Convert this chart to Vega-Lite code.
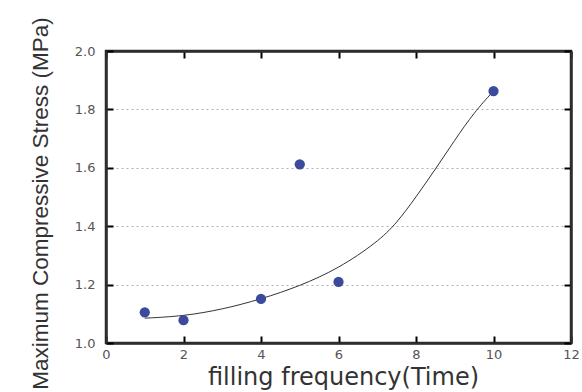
{
  "$schema": "https://vega.github.io/schema/vega-lite/v6.json",
  "width": 465,
  "height": 292,
  "autosize": "none",
  "padding": {"left": 106, "top": 51, "right": 11, "bottom": 49},
  "background": "white",
  "view": {"stroke": "#2e2e2e", "strokeWidth": 2.5},
  "datasets": {
    "points": [
      {"freq": 1, "stress": 1.105},
      {"freq": 2, "stress": 1.078},
      {"freq": 4, "stress": 1.151},
      {"freq": 5, "stress": 1.612},
      {"freq": 6, "stress": 1.209},
      {"freq": 10, "stress": 1.863}
    ],
    "fit": [
      {"freq": 1, "stress": 1.085},
      {"freq": 2, "stress": 1.092},
      {"freq": 3, "stress": 1.115},
      {"freq": 4, "stress": 1.15},
      {"freq": 5, "stress": 1.195},
      {"freq": 6, "stress": 1.255},
      {"freq": 7, "stress": 1.345},
      {"freq": 7.5, "stress": 1.41},
      {"freq": 8, "stress": 1.5},
      {"freq": 8.5, "stress": 1.595},
      {"freq": 9, "stress": 1.695},
      {"freq": 9.5, "stress": 1.79},
      {"freq": 10, "stress": 1.863}
    ]
  },
  "layer": [
    {
      "data": {"name": "fit"},
      "mark": {"type": "line", "interpolate": "basis", "color": "#333333", "strokeWidth": 1},
      "encoding": {
        "x": {
          "field": "freq", "type": "quantitative",
          "scale": {"domain": [0, 12], "nice": false},
          "axis": {"orient": "top", "title": null, "labels": false, "grid": false, "tickCount": 6,
                   "domainColor": "#2e2e2e", "domainWidth": 2.5,
                   "ticks": true, "tickSize": -7, "tickColor": "black", "tickWidth": 2}
        },
        "y": {
          "field": "stress", "type": "quantitative",
          "scale": {"domain": [1, 2], "nice": false, "zero": false},
          "axis": {"orient": "right", "title": null, "labels": false, "grid": false, "tickCount": 5,
                   "domainColor": "#2e2e2e", "domainWidth": 2.5,
                   "ticks": true, "tickSize": -7, "tickColor": "black", "tickWidth": 2}
        }
      }
    },
    {
      "data": {"name": "points"},
      "mark": {"type": "point", "shape": "circle", "filled": true, "size": 105, "color": "#3b4a9c", "opacity": 1},
      "encoding": {
        "x": {
          "field": "freq", "type": "quantitative",
          "scale": {"domain": [0, 12], "nice": false},
          "axis": {"orient": "bottom", "title": "filling frequency(Time)", "tickCount": 6,
                   "grid": false, "domainColor": "#2e2e2e", "domainWidth": 2.5,
                   "ticks": true, "tickSize": -7, "tickColor": "black", "tickWidth": 2,
                   "labelPadding": 12, "labelFontSize": 13,
                   "labelColor": "#555555", "labelFont": "DejaVu Sans", "labelFlush": false,
                   "titleFontSize": 24, "titleFontWeight": "normal", "titleColor": "#333333",
                   "titleFont": "DejaVu Sans", "titleX": 237, "titleY": 41, "titleAlign": "center",
                   "titleBaseline": "alphabetic"}
        },
        "y": {
          "field": "stress", "type": "quantitative",
          "scale": {"domain": [1, 2], "nice": false, "zero": false},
          "axis": {"orient": "left", "title": "Maximum Compressive Stress (MPa)", "tickCount": 5,
                   "grid": true, "gridDash": [2, 3], "gridColor": "#b0b0b0", "gridWidth": 1,
                   "domainColor": "#2e2e2e", "domainWidth": 2.5,
                   "ticks": true, "tickSize": -7, "tickColor": "black", "tickWidth": 2,
                   "labelPadding": 18, "labelFontSize": 13, "labelColor": "#555555", "labelFont": "DejaVu Sans",
                   "titleFontSize": 22.5, "titleFontWeight": "normal", "titleColor": "#333333",
                   "titleFont": "Liberation Sans", "titleX": -59, "titleY": 152, "titleAlign": "center",
                   "titleBaseline": "alphabetic", "titleAngle": -90}
        }
      }
    }
  ],
  "resolve": {"axis": {"x": "independent", "y": "independent"}}
}
